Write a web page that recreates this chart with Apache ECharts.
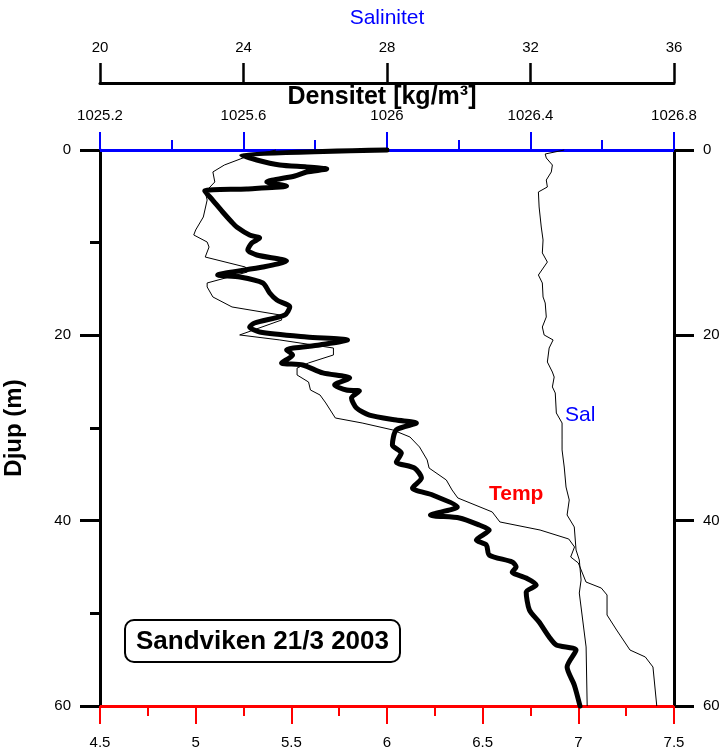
<!DOCTYPE html>
<html>
<head>
    <meta charset="utf-8">
    <title>Sandviken 21/3 2003</title>
    <script src="https://cdn.jsdelivr.net/npm/echarts@6/dist/echarts.min.js"></script>
    <style>
        html, body { margin: 0; padding: 0; background: #fff; }
        #main { width: 725px; height: 756px; }
    </style>
</head>
<body>
<div id="main"></div>
<script type="text/javascript">
    // djup (m) och densitet (kg/m3)
    var densDepth = [0.00, 0.54, 1.08, 1.62, 1.83, 2.05, 2.37, 2.81, 3.45, 3.88, 4.21, 4.42, 5.40, 6.69, 7.77, 8.31, 9.17, 9.50,
        10.04, 10.79, 11.33, 11.98, 12.63, 13.49, 13.70, 14.35, 15.43, 16.19, 16.94, 17.80, 18.67, 19.10, 19.64, 20.18, 20.50,
        21.04, 21.58, 22.12, 22.98, 23.20, 24.06, 24.60, 25.36, 25.90, 26.01, 26.76, 27.84, 28.60, 29.14, 29.46, 30.21, 31.83,
        32.70, 33.67, 34.32, 35.40, 36.47, 37.23, 38.52, 39.39, 39.71, 40.47, 41.01, 42.09, 42.63, 43.71, 44.46, 45.00, 45.54,
        46.19, 46.94, 47.70, 49.64, 50.94, 52.55, 53.42, 53.96, 55.79, 57.73, 60.00];
    var densValue = [1026.000, 1025.595, 1025.637, 1025.701, 1025.776, 1025.832, 1025.776, 1025.743, 1025.665, 1025.720, 1025.609,
        1025.492, 1025.514, 1025.542, 1025.567, 1025.581, 1025.617, 1025.645, 1025.623, 1025.612, 1025.637, 1025.720, 1025.654,
        1025.528, 1025.590, 1025.654, 1025.673, 1025.693, 1025.729, 1025.715, 1025.631, 1025.617, 1025.645, 1025.776, 1025.890,
        1025.812, 1025.720, 1025.737, 1025.706, 1025.765, 1025.821, 1025.896, 1025.854, 1025.887, 1025.923, 1025.901, 1025.915,
        1025.951, 1026.026, 1026.082, 1026.026, 1026.015, 1026.040, 1026.026, 1026.077, 1026.096, 1026.071, 1026.127, 1026.196,
        1026.121, 1026.202, 1026.257, 1026.285, 1026.249, 1026.277, 1026.285, 1026.349, 1026.360, 1026.349, 1026.388, 1026.416,
        1026.388, 1026.397, 1026.424, 1026.452, 1026.472, 1026.527, 1026.502, 1026.522, 1026.538];

    // temperatur
    var tempDepth = [0.00, 0.76, 1.62, 2.37, 3.45, 4.53, 5.40, 7.23, 8.63, 9.17, 9.93, 10.47, 11.55, 12.63, 13.17, 14.35, 14.78,
        15.86, 16.94, 17.80, 18.34, 19.96, 20.50, 21.37, 22.12, 22.98, 23.53, 24.28, 25.04, 25.90, 26.44, 27.30, 28.92, 29.46,
        30.21, 30.97, 32.05, 33.45, 34.32, 35.61, 36.69, 37.55, 39.06, 40.14, 41.01, 41.98, 42.84, 43.92, 44.57, 46.62, 47.27,
        48.02, 50.18, 51.80, 53.96, 54.71, 55.79, 60.00];
    var tempValue = [5.42, 5.26, 5.15, 5.09, 5.10, 5.05, 5.06, 5.04, 5.00, 4.99, 5.06, 5.07, 5.05, 5.26, 5.27, 5.06, 5.06,
        5.09, 5.19, 5.44, 5.45, 5.23, 5.44, 5.72, 5.72, 5.59, 5.53, 5.53, 5.59, 5.60, 5.65, 5.68, 5.73, 5.87,
        6.03, 6.12, 6.17, 6.21, 6.22, 6.31, 6.34, 6.37, 6.55, 6.59, 6.80, 6.95, 6.98, 6.96, 7.00, 7.04, 7.12,
        7.15, 7.15, 7.20, 7.27, 7.35, 7.39, 7.41];

    // salinitet
    var salDepth = [0.00, 0.43, 0.86, 1.62, 2.37, 3.24, 3.99, 4.53, 6.15, 8.31, 9.71, 11.11, 12.09, 13.49, 14.35, 15.86, 16.51,
        18.02, 19.10, 19.96, 20.50, 21.37, 22.88, 23.96, 24.50, 25.57, 26.22, 28.38, 29.46, 31.29, 32.37, 34.21, 36.37, 37.77,
        39.39, 40.68, 43.17, 44.24, 46.40, 47.81, 53.63, 60.00];
    var salValue = [32.94, 32.41, 32.44, 32.61, 32.58, 32.44, 32.47, 32.22, 32.24, 32.30, 32.35, 32.33, 32.47, 32.22, 32.33, 32.35, 32.41,
        32.44, 32.33, 32.38, 32.63, 32.52, 32.47, 32.61, 32.66, 32.61, 32.69, 32.72, 32.88, 32.88, 32.88, 32.94, 32.99, 33.08,
        33.02, 33.22, 33.27, 33.36, 33.41, 33.36, 33.55, 33.58];

    function pairs(vals, depths) {
        return vals.map(function (v, i) { return [v, depths[i]]; });
    }

    var FONT = '"Liberation Sans", Arial, sans-serif';
    var BLUE = '#0000ff', RED = '#ff0000';

    var myChart = echarts.init(document.getElementById('main'));

    var option = {
        backgroundColor: '#fff',
        animation: false,
        textStyle: { fontFamily: FONT },
        grid: { left: 100, right: 51, top: 150, bottom: 50, outerBoundsMode: 'none' },
        xAxis: [
            {   // densitet, överkant
                type: 'value', position: 'top',
                min: 1025.2, max: 1026.8, interval: 0.4,
                axisLine: { onZero: false, lineStyle: { color: BLUE, width: 3 } },
                axisTick: { length: 18, lineStyle: { color: BLUE, width: 2 } },
                minorTick: { show: true, splitNumber: 2, length: 10, lineStyle: { color: BLUE, width: 2 } },
                axisLabel: { margin: 27, color: '#000', fontSize: 15, fontFamily: FONT,
                    formatter: function (v) { return String(+v.toFixed(2)); } },
                splitLine: { show: false }
            },
            {   // salinitet
                type: 'value', position: 'top', offset: 67,
                min: 20, max: 36, interval: 4,
                axisLine: { onZero: false, lineStyle: { color: '#000', width: 3 } },
                axisTick: { length: 20, lineStyle: { color: '#000', width: 2.5 } },
                axisLabel: { margin: 28, color: '#000', fontSize: 15, fontFamily: FONT },
                splitLine: { show: false }
            },
            {   // temperatur, underkant
                type: 'value', position: 'bottom',
                min: 4.5, max: 7.5, interval: 0.5,
                axisLine: { onZero: false, lineStyle: { color: RED, width: 3 } },
                axisTick: { length: 18, lineStyle: { color: RED, width: 2 } },
                minorTick: { show: true, splitNumber: 2, length: 10, lineStyle: { color: RED, width: 2 } },
                axisLabel: { margin: 29, color: '#000', fontSize: 15, fontFamily: FONT },
                splitLine: { show: false }
            }
        ],
        yAxis: [
            {
                type: 'value', position: 'left', inverse: true,
                min: 0, max: 60, interval: 20,
                name: 'Djup (m)', nameLocation: 'middle', nameGap: 74,
                nameTextStyle: { fontSize: 24, fontWeight: 'bold', color: '#000', fontFamily: FONT },
                axisLine: { onZero: false, lineStyle: { color: '#000', width: 3 } },
                axisTick: { length: 20, lineStyle: { color: '#000', width: 3 } },
                minorTick: { show: true, splitNumber: 2, length: 10, lineStyle: { color: '#000', width: 3 } },
                axisLabel: { margin: 29, color: '#000', fontSize: 15, fontFamily: FONT },
                splitLine: { show: false }
            },
            {
                type: 'value', position: 'right', inverse: true,
                min: 0, max: 60, interval: 20,
                axisLine: { onZero: false, lineStyle: { color: '#000', width: 3 } },
                axisTick: { length: 20, lineStyle: { color: '#000', width: 3 } },
                axisLabel: { margin: 29, color: '#000', fontSize: 15, fontFamily: FONT },
                splitLine: { show: false }
            }
        ],
        series: [
            {
                name: 'Temp', type: 'line', xAxisIndex: 2, yAxisIndex: 0,
                data: pairs(tempValue, tempDepth),
                showSymbol: false, clip: false,
                lineStyle: { color: '#000', width: 1 }
            },
            {
                name: 'Sal', type: 'line', xAxisIndex: 1, yAxisIndex: 0,
                data: pairs(salValue, salDepth),
                showSymbol: false, clip: false,
                lineStyle: { color: '#000', width: 1 }
            },
            {
                name: 'Densitet', type: 'line', xAxisIndex: 0, yAxisIndex: 0,
                data: pairs(densValue, densDepth),
                showSymbol: false, clip: false, smooth: 0.25,
                lineStyle: { color: '#000', width: 5, join: 'round', cap: 'round' }
            }
        ],
        graphic: [
            // axeltitlar överst
            { type: 'text', x: 387, y: 18,
                style: { text: 'Salinitet', fill: BLUE, align: 'center', verticalAlign: 'middle',
                    font: '21px ' + FONT } },
            { type: 'text', x: 382, y: 97,
                style: { text: 'Densitet [kg/m³]', fill: '#000', align: 'center', verticalAlign: 'middle',
                    font: 'bold 25px ' + FONT } },
            { type: 'text', x: 565, y: 405,
                style: { text: 'Sal', fill: BLUE, font: '21px ' + FONT } },
            { type: 'text', x: 489, y: 484,
                style: { text: 'Temp', fill: RED, font: 'bold 21px ' + FONT } },
            {
                type: 'group', x: 125, y: 620,
                children: [
                    { type: 'rect', shape: { x: 0, y: 0, width: 275, height: 42, r: 9 },
                        style: { fill: '#fff', stroke: '#000', lineWidth: 2 } },
                    { type: 'text', x: 137.5, y: 22,
                        style: { text: 'Sandviken 21/3 2003', fill: '#000', align: 'center', verticalAlign: 'middle',
                            font: 'bold 26px ' + FONT } }
                ]
            }
        ]
    };

    myChart.setOption(option);
</script>
</body>
</html>
